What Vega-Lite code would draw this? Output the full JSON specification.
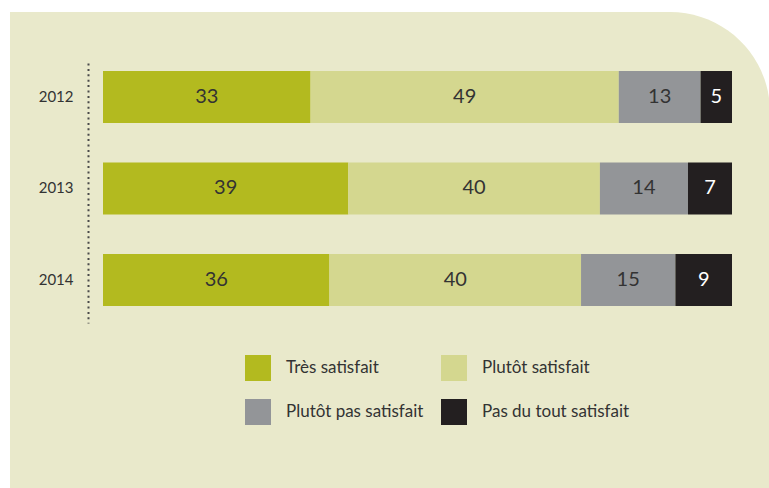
{
  "$schema": "https://vega.github.io/schema/vega-lite/v6.json",
  "autosize": {"type": "none"},
  "width": 629,
  "height": 260,
  "padding": {"left": 103, "top": 63, "right": 37, "bottom": 165},
  "background": "#ffffff",
  "config": {
    "view": {"stroke": null},
    "font": "Lato"
  },
  "datasets": {
    "survey": [
      {"year": "2012", "cat": "Très satisfait", "k": 1, "value": 33},
      {"year": "2012", "cat": "Plutôt satisfait", "k": 2, "value": 49},
      {"year": "2012", "cat": "Plutôt pas satisfait", "k": 3, "value": 13},
      {"year": "2012", "cat": "Pas du tout satisfait", "k": 4, "value": 5},
      {"year": "2013", "cat": "Très satisfait", "k": 1, "value": 39},
      {"year": "2013", "cat": "Plutôt satisfait", "k": 2, "value": 40},
      {"year": "2013", "cat": "Plutôt pas satisfait", "k": 3, "value": 14},
      {"year": "2013", "cat": "Pas du tout satisfait", "k": 4, "value": 7},
      {"year": "2014", "cat": "Très satisfait", "k": 1, "value": 36},
      {"year": "2014", "cat": "Plutôt satisfait", "k": 2, "value": 40},
      {"year": "2014", "cat": "Plutôt pas satisfait", "k": 3, "value": 15},
      {"year": "2014", "cat": "Pas du tout satisfait", "k": 4, "value": 9}
    ]
  },
  "layer": [
    {
      "data": {"values": [{"left": -14.785, "right": 106.04, "top": 1.196, "bottom": -0.65}]},
      "mark": {"type": "rect", "fill": "#e9e9cb", "cornerRadiusTopRight": 100},
      "encoding": {
        "x": {"field": "left", "type": "quantitative", "scale": {"domain": [0, 100], "nice": false, "zero": false}, "axis": null},
        "x2": {"field": "right"},
        "y": {"field": "top", "type": "quantitative", "scale": {"domain": [0, 1], "nice": false, "zero": false}, "axis": null},
        "y2": {"field": "bottom"}
      }
    },
    {
      "data": {"name": "survey"},
      "transform": [
        {"stack": "value", "groupby": ["year"], "sort": [{"field": "k", "order": "ascending"}], "as": ["x0", "x1"]}
      ],
      "mark": {"type": "bar"},
      "encoding": {
        "y": {
          "field": "year", "type": "nominal",
          "scale": {"type": "band", "paddingInner": 0.432, "paddingOuter": 0.137, "align": 0.32},
          "axis": {
            "title": null, "ticks": false, "grid": false, "zindex": 1,
            "offset": 15, "labelPadding": 15,
            "domainColor": "#4a4a4a", "domainWidth": 2, "domainDash": [2, 3.4],
            "labelFont": "Lato", "labelFontSize": 15, "labelColor": "#333333"
          }
        },
        "x": {"field": "x0", "type": "quantitative", "scale": {"domain": [0, 100], "nice": false, "zero": false}, "axis": null},
        "x2": {"field": "x1"},
        "color": {
          "field": "cat", "type": "nominal",
          "scale": {
            "domain": ["Très satisfait", "Plutôt satisfait", "Plutôt pas satisfait", "Pas du tout satisfait"],
            "range": ["#b3ba1f", "#d4d78f", "#939598", "#231f20"]
          },
          "legend": {
            "title": null, "orient": "none", "legendX": 142, "legendY": 292,
            "direction": "horizontal", "columns": 2, "zindex": 1,
            "symbolType": "square", "symbolSize": 676, "symbolStrokeWidth": 0, "symbolOpacity": 1,
            "labelFont": "Lato", "labelFontSize": 17, "labelColor": "#333333", "labelOffset": 15,
            "labelLimit": 400, "columnPadding": 17, "rowPadding": 18
          }
        }
      }
    },
    {
      "data": {"name": "survey"},
      "transform": [
        {"stack": "value", "groupby": ["year"], "sort": [{"field": "k", "order": "ascending"}], "as": ["x0", "x1"]},
        {"calculate": "(datum.x0 + datum.x1) / 2", "as": "mid"}
      ],
      "mark": {"type": "text", "font": "Lato", "fontSize": 20, "baseline": "middle", "align": "center"},
      "encoding": {
        "y": {"field": "year", "type": "nominal", "scale": {"type": "band", "paddingInner": 0.432, "paddingOuter": 0.137, "align": 0.32}, "axis": null},
        "x": {"field": "mid", "type": "quantitative", "scale": {"domain": [0, 100], "nice": false, "zero": false}, "axis": null},
        "text": {"field": "value", "type": "quantitative"},
        "color": {"condition": {"test": "datum.k === 4", "value": "#ffffff"}, "value": "#333333"}
      }
    }
  ],
  "resolve": {"scale": {"y": "independent"}}
}
